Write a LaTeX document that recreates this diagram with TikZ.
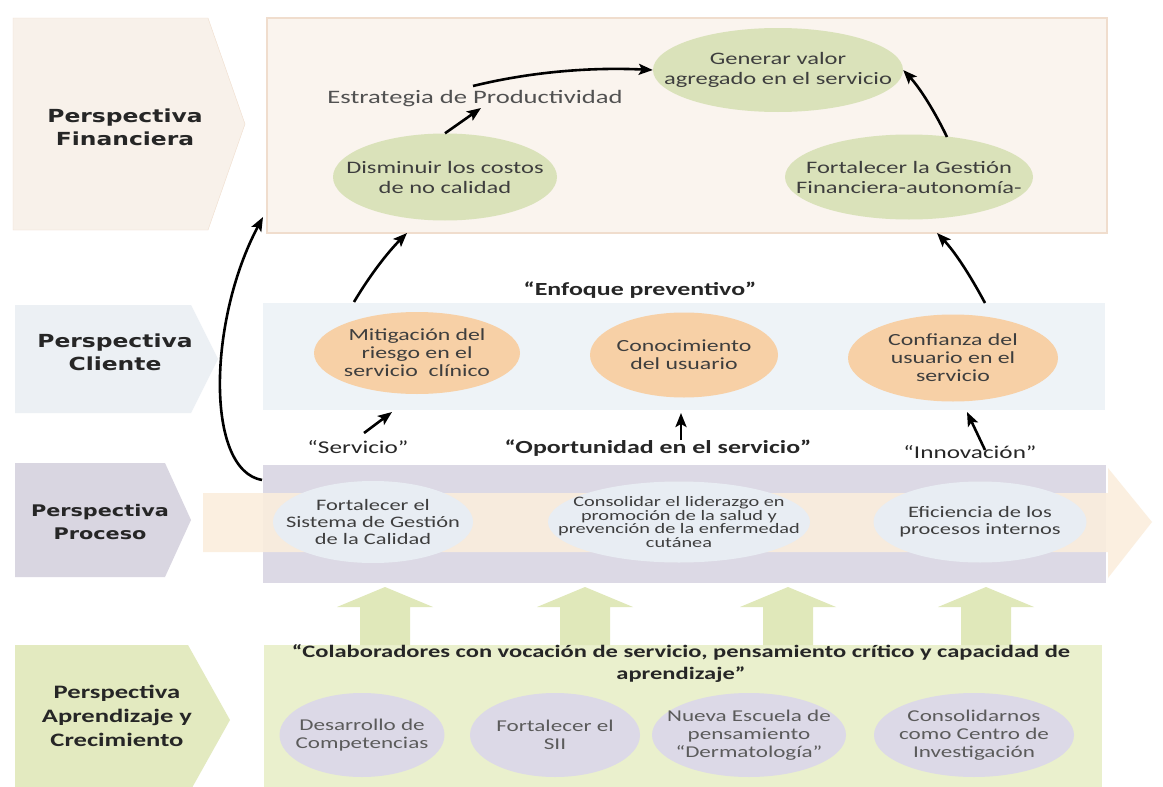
\documentclass[tikz,border=0pt]{standalone}
\usepackage{fontspec}
\setmainfont[FakeStretch=1.4]{Carlito}
\newfontfamily\lblfont[FakeStretch=1.3]{DejaVu Sans}
\usetikzlibrary{shapes.geometric,arrows.meta}
\definecolor{fincv}{HTML}{F8F1EA}
\definecolor{finbox}{HTML}{FAF4EE}
\definecolor{finedge}{HTML}{F0DDCD}
\definecolor{clicv}{HTML}{ECF0F4}
\definecolor{clibox}{HTML}{EEF3F7}
\definecolor{procv}{HTML}{D9D6E1}
\definecolor{probox}{HTML}{DCD9E5}
\definecolor{bandc}{HTML}{FBEEDD}
\definecolor{aprcv}{HTML}{E3EAC0}
\definecolor{aprbox}{HTML}{EAF0CD}
\definecolor{uparr}{HTML}{E0E8BA}
\definecolor{ellG}{HTML}{DAE2BA}
\definecolor{ellO}{HTML}{F7D0A6}
\definecolor{ellB}{HTML}{E8EDF3}
\definecolor{ellL}{HTML}{DCD9E7}
\definecolor{etxt}{HTML}{3E3E3E}
\definecolor{lbltxt}{HTML}{262626}
\begin{document}
\begin{tikzpicture}[x=1pt,y=-1pt,
  lbl/.style={align=center,text=lbltxt,inner sep=0pt,font=\lblfont\bfseries\fontsize{18}{23}\selectfont},
  lblc/.style={align=center,text=lbltxt,inner sep=0pt,font=\bfseries\fontsize{19}{24}\selectfont},
  ell/.style={ellipse,inner sep=0pt,draw=none},
  fintx/.style={align=center,text=etxt,inner sep=0pt,font=\fontsize{17.5}{20}\selectfont},
  clitx/.style={align=center,text=etxt,inner sep=0pt,font=\fontsize{17}{18}\selectfont},
  prtx/.style={align=center,text=etxt,inner sep=0pt,font=\fontsize{16}{17}\selectfont},
  aptx/.style={align=center,text=etxt!85,inner sep=0pt,font=\fontsize{16.5}{18}\selectfont},
  qtx/.style={align=center,text=lbltxt,inner sep=0pt,font=\fontsize{18}{20}\selectfont},
  qbx/.style={align=center,text=lbltxt,inner sep=0pt,font=\bfseries\fontsize{18.5}{20}\selectfont},
  arr/.style={-{Stealth[length=14pt,width=11pt,inset=3pt]},line width=2.6pt,black}
]
\useasboundingbox (0,0) rectangle (1163,787);
\fill[white] (0,0) rectangle (1163,787);
% chevrons
\fill[fincv,draw=finedge] (13,18) -- (208,18) -- (245,124) -- (208,230) -- (13,230) -- cycle;
\fill[clicv] (15,305) -- (191,305) -- (218,359) -- (191,413) -- (15,413) -- cycle;
\fill[procv] (15,463) -- (165,463) -- (191,520) -- (165,577) -- (15,577) -- cycle;
\fill[aprcv] (15,645) -- (188,645) -- (230,720) -- (188,795) -- (15,795) -- cycle;
% boxes
\fill[finbox,draw=finedge,line width=1.5pt] (267,18) rectangle (1107,233);
\fill[clibox] (263,303) rectangle (1105,410);
\fill[probox] (263,465) rectangle (1106,583);
\fill[aprbox] (264,645) rectangle (1102,795);
% process band arrow
\fill[bandc,opacity=0.9] (203,493) -- (1108,493) -- (1108,468) -- (1152,522) -- (1108,578) -- (1108,552) -- (203,552) -- cycle;
% green up arrows
\foreach \cx in {385,585,788,986}{
  \fill[uparr] (\cx-25,645) -- (\cx-25,607) -- (\cx-48,607) -- (\cx,587) -- (\cx+48,607) -- (\cx+25,607) -- (\cx+25,645) -- cycle;
}
% labels
\node[lbl] (lfin) at (125,127) {Perspectiva\\Financiera};
\node[lbl] (lcli) at (115,352) {Perspectiva\\Cliente};
\node[lbl,font=\lblfont\bfseries\fontsize{16}{23}\selectfont] (lpro) at (100,522) {Perspectiva\\Proceso};
\node[lblc] (lapr) at (117,716) {Perspectiva\\Aprendizaje y\\Crecimiento};
% financiera ellipses
\node[ell,fill=ellG,minimum width=250pt,minimum height=84pt] (gen) at (778,70) {};
\node[fintx] (gent) at (gen) {Generar valor\\agregado en el servicio};
\node[ell,fill=ellG,minimum width=224pt,minimum height=87pt] (dis) at (445,177) {};
\node[fintx] (dist) at (dis) {Disminuir los costos\\de no calidad};
\node[ell,fill=ellG,minimum width=248pt,minimum height=85pt] (fge) at (909,177) {};
\node[fintx] (fget) at (fge) {Fortalecer la Gestión\\Financiera-autonomía-};
\node[text=etxt!90,inner sep=0pt,font=\fontsize{19}{20}\selectfont] (estr) at (475,99) {Estrategia de Productividad};
% cliente
\node[qbx] (enf) at (640,290) {“Enfoque preventivo”};
\node[ell,fill=ellO,minimum width=206pt,minimum height=82pt] (mit) at (417,353) {};
\node[clitx] (mitt) at (mit) {Mitigación del\\riesgo en el\\servicio\ \ clínico};
\node[ell,fill=ellO,minimum width=188pt,minimum height=85pt] (con) at (684,355) {};
\node[clitx] (cont) at (con) {Conocimiento\\del usuario};
\node[ell,fill=ellO,minimum width=210pt,minimum height=87pt] (cnf) at (953,358) {};
\node[clitx] (cnft) at (cnf) {Confianza del\\usuario en el\\servicio};
% quotes between
\node[qtx] (serv) at (358,447) {“Servicio”};
\node[qbx] (opor) at (658,448) {“Oportunidad en el servicio”};
\node[qtx] (inno) at (970,452) {“Innovación”};
% proceso ellipses
\node[ell,fill=ellB,minimum width=200pt,minimum height=82pt] (fsg) at (373,522) {};
\node[prtx] (fsgt) at (fsg) {Fortalecer el\\Sistema de Gestión\\de la Calidad};
\node[ell,fill=ellB,minimum width=262pt,minimum height=81pt] (cld) at (679,522) {};
\node[prtx,font=\fontsize{14.5}{13.5}\selectfont] (cldt) at (cld) {Consolidar el liderazgo en\\promoción de la salud y\\prevención de la enfermedad\\cutánea};
\node[ell,fill=ellB,minimum width=213pt,minimum height=81pt] (efi) at (980,522) {};
\node[prtx] (efit) at (efi) {Eficiencia de los\\procesos internos};
% aprendizaje
\node[qbx,font=\bfseries\fontsize{17.5}{22}\selectfont] (colab) at (681,664) {“Colaboradores con vocación de servicio, pensamiento crítico y capacidad de\\aprendizaje”};
\node[ell,fill=ellL,minimum width=165pt,minimum height=84pt] (des) at (362,735) {};
\node[aptx] (dest) at (des) {Desarrollo de\\Competencias};
\node[ell,fill=ellL,minimum width=170pt,minimum height=84pt] (sii) at (555,735) {};
\node[aptx] (siit) at (sii) {Fortalecer el\\SII};
\node[ell,fill=ellL,minimum width=194pt,minimum height=84pt] (nue) at (749,735) {};
\node[aptx] (nuet) at (nue) {Nueva Escuela de\\pensamiento\\“Dermatología”};
\node[ell,fill=ellL,minimum width=200pt,minimum height=84pt] (cin) at (974,735) {};
\node[aptx] (cint) at (cin) {Consolidarnos\\como Centro de\\Investigación};
% arrow end points
\coordinate (estrb) at (481,108);
\coordinate (estrt) at (473,86);
\coordinate (fgeT) at (947,137);
\coordinate (mitT) at (354,302);
\coordinate (finB1) at (407,233);
\coordinate (cnfT) at (985,303);
\coordinate (finB2) at (937,233);
\coordinate (servT) at (364,433);
\coordinate (cliB1) at (392,412);
\coordinate (oporT) at (681,440);
\coordinate (cliB2) at (681,413);
\coordinate (innoT) at (985,450);
\coordinate (cliB3) at (967,412);
\coordinate (proTL) at (262,480);
\coordinate (finL) at (263,217);
% arrows
\draw[arr] (dis.north) -- (estrb);
\draw[arr] (estrt) .. controls (530,72) and (590,67) .. (gen.west);
\draw[arr] (fgeT) .. controls (935,112) and (920,88) .. (gen.east);
\draw[arr] (mitT) .. controls (370,275) and (388,252) .. (finB1);
\draw[arr] (cnfT) .. controls (970,275) and (955,252) .. (finB2);
\draw[arr] (servT) -- (cliB1);
\draw[arr] (oporT) -- (cliB2);
\draw[arr] (innoT) -- (cliB3);
\draw[arr] (proTL) .. controls (205,470) and (208,320) .. (finL);
\end{tikzpicture}
\end{document}
